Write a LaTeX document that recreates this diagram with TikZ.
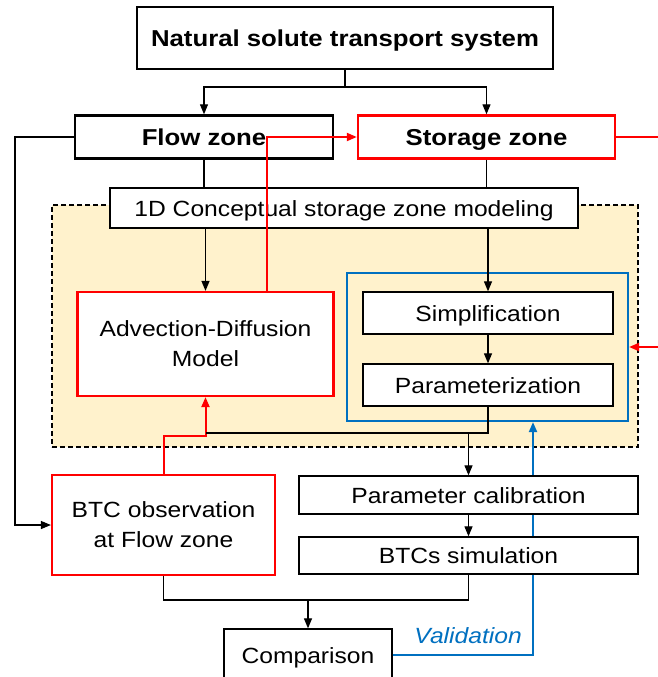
\documentclass[tikz,border=0pt]{standalone}
\usepackage{fontspec}
\setmainfont{Liberation Sans}[FakeStretch=1.12]
\usetikzlibrary{arrows.meta,calc}
\definecolor{redc}{HTML}{FF0000}
\definecolor{bluec}{HTML}{0070C0}
\definecolor{zonefill}{HTML}{FFF2CC}
\begin{document}
\begin{tikzpicture}[x=1pt,y=-1pt,
  every node/.style={inner sep=0pt, align=center},
  box/.style={draw=black, line width=1.3pt, fill=white, font=\fontsize{22}{30}\selectfont},
  oneline/.style={text height=16.5pt, text depth=0pt},
  boldbox/.style={box, oneline, line width=2.4pt, font=\fontsize{23}{28}\selectfont\bfseries},
  redbox/.style={box, draw=redc, line width=2.2pt},
  zonebox/.style={draw=black, line width=1.2pt, dash pattern=on 5pt off 3pt, fill=zonefill},
  groupbox/.style={draw=bluec, line width=2.2pt},
  conn/.style={line width=1.2pt},
  arr/.style={conn, -{Triangle[length=10pt,width=8pt]}},
  redarr/.style={line width=2pt, draw=redc, -{Triangle[length=10pt,width=8pt]}},
  bluearr/.style={line width=2pt, draw=bluec, -{Triangle[length=10pt,width=8pt]}}
]
\useasboundingbox (0,0) rectangle (658,677);
\clip (0,0) rectangle (658,677);
\fill[white] (0,0) rectangle (658,677);

\node[zonebox, minimum width=586, minimum height=242] (zone) at (345,326) {};
\node[boldbox, minimum width=416, minimum height=62] (top) at (345,38) {Natural solute transport system};
\node[boldbox, minimum width=258, minimum height=43] (flow) at (204,137) {Flow zone};
\node[boldbox, draw=redc, minimum width=257, minimum height=43] (stor) at (486.5,137) {Storage zone};
\node[box, oneline, minimum width=468, minimum height=40] (oned) at (344,208) {1D Conceptual storage zone modeling};
\node[groupbox, minimum width=281, minimum height=148] (grp) at (487.5,347) {};
\node[box, oneline, minimum width=250, minimum height=42] (simp) at (488,313) {Simplification};
\node[box, oneline, minimum width=250, minimum height=42] (param) at (488,385) {Parameterization};
\node[redbox, minimum width=256, minimum height=104] (adm) at (205.5,344) {Advection-Diffusion\\Model};
\node[redbox, minimum width=223, minimum height=100] (btc) at (163.5,525) {BTC observation\\at Flow zone};
\node[box, oneline, minimum width=168, minimum height=52] (comp) at (308,655) {Comparison};

% blue validation line (under the boxes)
\coordinate (bx) at (533,0);
\draw[bluearr] (comp.east) -| (bx |- grp.south);
\node[font=\fontsize{22}{29}\selectfont\itshape, text=bluec, anchor=east] (val) at (522,636) {Validation};

\node[box, oneline, minimum width=339, minimum height=38] (pcal) at (468.5,495) {Parameter calibration};
\node[box, oneline, minimum width=339, minimum height=37] (bsim) at (468.5,555.5) {BTCs simulation};

% top split
\coordinate (j1) at (345,87);
\draw[conn] (top.south) -- (j1);
\draw[arr] (j1) -| (flow.north);
\draw[arr] (j1) -| (stor.north);

% zones to 1D box
\draw[conn] (flow.south) -- (flow.south |- oned.north);
\draw[conn] (stor.south) -- (stor.south |- oned.north);
\draw[arr] (oned.south -| adm.north) -- (adm.north);
\draw[arr] (oned.south -| simp.north) -- (simp.north);
\draw[arr] (simp.south) -- (param.north);

% flow zone to BTC observation
\coordinate (lx) at (15,0);
\draw[arr] (flow.west) -| (lx |- btc.west) -- (btc.west);

% red connectors
\coordinate (rx) at (267,0);
\draw[redarr] (adm.north -| rx) |- (stor.west);
\coordinate (offr) at (672,0);
\draw[redarr] (stor.east) -| (offr |- grp.east) -- (grp.east);
\coordinate (j4) at (163.5,436);
\draw[redarr] (btc.north) -- (j4) -| (adm.south);

% parameterization to calibration
\coordinate (j2) at (488,433);
\draw[conn] (param.south) -- (j2) -- (j2 -| adm.south);
\draw[arr] (j2 -| pcal.north) -- (pcal.north);
\draw[arr] (pcal.south) -- (bsim.north);

% to comparison
\coordinate (j3) at (308,600);
\draw[conn] (btc.south) |- (j3);
\draw[conn] (bsim.south) |- (j3);
\draw[arr] (j3) -- (comp.north);
\end{tikzpicture}
\end{document}
